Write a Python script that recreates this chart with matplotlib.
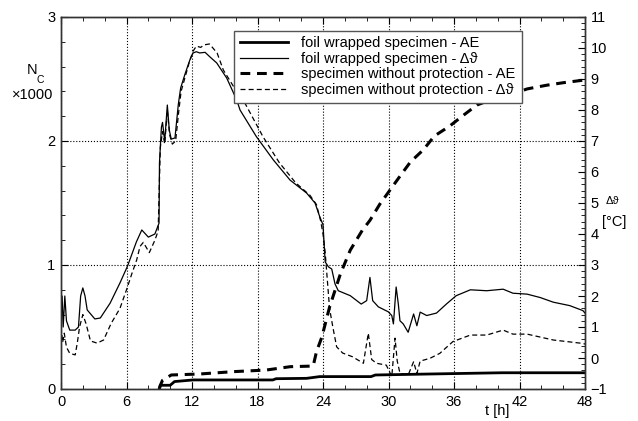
import matplotlib
matplotlib.use('Agg')
import matplotlib.pyplot as plt
from matplotlib.ticker import MultipleLocator

plt.rcParams['font.family'] = ['Liberation Sans', 'DejaVu Sans']

# AE counts (x1000) - foil wrapped specimen
t_foil_ae = [9.0, 9.1, 9.3, 10.0, 10.4, 12.1, 19.4, 19.7, 22.5, 23.7, 28.4, 28.8, 33.8, 40.4, 48.0]
n_foil_ae = [0.0, 0.03, 0.03, 0.03, 0.06, 0.073, 0.073, 0.083, 0.086, 0.10, 0.10, 0.113, 0.121, 0.131, 0.131]

# AE counts (x1000) - specimen without protection
t_bare_ae = [9.0, 9.1, 9.3, 10.1, 12.7, 15.8, 18.8, 21.0, 23.1, 23.4, 23.9, 24.6, 25.6, 26.5, 27.6,
             28.3, 29.2, 30.1, 31.0, 32.0, 33.2, 34.2, 35.6, 36.9, 38.1, 39.6, 41.1, 42.7, 44.5, 46.0, 47.8, 48.0]
n_bare_ae = [0.0, 0.03, 0.07, 0.113, 0.121, 0.14, 0.153, 0.18, 0.185, 0.30, 0.42, 0.66, 0.93, 1.12, 1.28,
             1.36, 1.49, 1.60, 1.71, 1.83, 1.93, 2.04, 2.12, 2.21, 2.29, 2.34, 2.37, 2.42, 2.45, 2.47, 2.49, 2.50]

# temperature difference - foil wrapped specimen
t_foil_dt = [0.0, 0.1, 0.2, 0.35, 0.5, 0.8, 1.3, 1.6, 1.8, 2.0, 2.2, 2.4, 3.1, 3.6, 4.5, 5.4, 6.1, 6.9,
             7.4, 8.0, 8.6, 8.98, 9.02, 9.2, 9.3, 9.5, 9.74, 9.92, 10.1, 10.44, 10.75, 10.96, 11.36, 11.8,
             12.1, 12.4, 12.7, 13.2, 13.65, 14.26, 15.18, 16.1, 16.4, 17.9, 19.45, 20.98, 22.5, 23.27,
             23.7, 24.0, 24.2, 24.5, 24.8, 25.1, 25.4, 26.5, 27.5, 28.0, 28.3, 28.55, 29.07, 29.98, 30.3,
             30.45, 30.7, 30.9, 31.05, 31.35, 31.8, 32.3, 32.6, 32.9, 33.5, 34.4, 35.3, 36.2, 37.5, 39.0,
             40.5, 41.4, 42.7, 43.9, 45.1, 46.6, 47.8, 48.0]
d_foil_dt = [1.5, 2.0, 1.0, 2.0, 1.2, 0.9, 0.9, 1.0, 2.0, 2.26, 2.0, 1.55, 1.26, 1.29, 1.77, 2.42, 2.97, 3.74,
             4.13, 3.90, 4.0, 4.35, 6.3, 7.45, 7.6, 6.99, 8.16, 7.35, 7.06, 7.1, 8.19, 8.71, 9.16, 9.61,
             9.84, 9.88, 9.84, 9.86, 9.71, 9.52, 9.03, 8.32, 8.0, 7.14, 6.39, 5.74, 5.32, 5.0,
             4.56, 4.3, 3.1, 2.94, 2.87, 2.39, 2.17, 2.01, 1.74, 1.85, 2.60, 1.85, 1.65, 1.49, 1.37,
             1.1, 2.29, 1.74, 1.2, 1.1, 0.83, 1.42, 1.04, 1.48, 1.37, 1.45, 1.74, 2.01, 2.2, 2.17,
             2.22, 2.09, 2.06, 1.95, 1.80, 1.69, 1.53, 1.45]

# temperature difference - specimen without protection
t_bare_dt = [0.0, 0.15, 0.3, 0.5, 0.8, 1.3, 1.5, 1.7, 2.0, 2.3, 2.7, 3.3, 3.9, 4.6, 5.4, 6.0, 6.5, 6.93,
             7.24, 7.54, 8.09, 8.6, 8.9, 9.0, 9.1, 9.3, 9.5, 9.74, 9.95, 10.2, 10.5, 10.8, 11.0, 11.4,
             11.8, 12.1, 12.4, 12.8, 13.1, 13.6, 14.3, 14.87, 16.1, 16.85, 18.5, 20.0, 21.5, 22.8, 23.4,
             23.8, 24.0, 24.2, 24.4, 24.6, 24.9, 25.25, 25.8, 26.7, 27.7, 28.15, 28.46, 28.9, 29.8, 30.3,
             30.6, 30.8, 31.05, 31.8, 32.3, 32.6, 32.9, 33.8, 34.7, 35.9, 37.5, 39.0, 40.5, 41.4, 42.7,
             45.1, 47.8, 48.0]
d_bare_dt = [1.0, 0.5, 0.8, 0.35, 0.15, 0.1, 0.5, 1.0, 1.4, 1.1, 0.55, 0.48, 0.58, 1.12, 1.6, 2.2, 2.73, 3.16,
             3.6, 3.73, 3.4, 3.8, 4.1, 5.5, 6.8, 7.3, 6.9, 8.0, 7.2, 6.9, 7.0, 8.0, 8.6, 9.1,
             9.6, 9.9, 10.06, 10.02, 10.1, 10.13, 9.84, 9.29, 8.59, 8.22, 7.14, 6.3, 5.65, 5.25, 4.95,
             4.4, 4.0, 3.4, 2.5, 1.6, 1.0, 0.36, 0.16, 0.04, -0.17, 0.8, -0.05, -0.17, -0.23, -0.6,
             0.64, -0.1, -0.49, -0.55, -0.12, -0.5, -0.1, -0.01, 0.15, 0.53, 0.74, 0.74, 0.9, 0.77, 0.77,
             0.58, 0.47, 0.45]

fig = plt.figure(figsize=(6.38, 4.21), dpi=100)
ax = fig.add_axes([61 / 638, 1 - 389 / 421, 524 / 638, 372 / 421])
ax2 = ax.twinx()

l1, = ax.plot(t_foil_ae, n_foil_ae, color='k', lw=2.0)
l3, = ax.plot(t_bare_ae, n_bare_ae, color='k', lw=2.2, dashes=(3.2, 2.2))
l2, = ax2.plot(t_foil_dt, d_foil_dt, color='k', lw=0.9)
l4, = ax2.plot(t_bare_dt, d_bare_dt, color='k', lw=0.9, dashes=(4, 2.5))

ax.set_xlim(0, 48)
ax.set_ylim(0, 3)
ax2.set_ylim(-1, 11)

ax.xaxis.set_major_locator(MultipleLocator(6))
ax.xaxis.set_minor_locator(MultipleLocator(2))
ax.yaxis.set_major_locator(MultipleLocator(1))
ax.yaxis.set_minor_locator(MultipleLocator(0.2))
ax2.yaxis.set_major_locator(MultipleLocator(1))
ax2.yaxis.set_minor_locator(MultipleLocator(0.2))

ax.tick_params(which='both', direction='in', top=True, right=False, labelsize=10.5, pad=4)
ax.tick_params(which='major', length=5)
ax.tick_params(which='minor', length=3)
ax2.tick_params(which='both', direction='in', labelsize=10.5, pad=4)
ax2.tick_params(which='major', length=5)
ax2.tick_params(which='minor', length=3)

ax.grid(True, which='major', linestyle=':', color='k', lw=0.8)

for a in (ax, ax2):
    for s in a.spines.values():
        s.set_color('#333333')
        s.set_linewidth(1.0)

leg = ax2.legend([l1, l2, l3, l4],
                 ['foil wrapped specimen - AE',
                  'foil wrapped specimen - Δϑ',
                  'specimen without protection - AE',
                  'specimen without protection - Δϑ'],
                 loc='upper left', bbox_to_anchor=(0.317, 0.983), fontsize=10.5,
                 handlelength=3.3, labelspacing=0.1, borderpad=0.4, handletextpad=0.9,
                 fancybox=False, framealpha=1, edgecolor='#555555')
leg.get_frame().set_linewidth(1.0)

fig.text(32 / 638, 1 - 70 / 421, 'N', fontsize=10.5, ha='center', va='center')
fig.text(40 / 638, 1 - 80 / 421, 'C', fontsize=7.5, ha='center', va='center')
fig.text(33 / 638, 1 - 95 / 421, '×1000', fontsize=10.5, ha='center', va='center')
fig.text(612 / 638, 1 - 201 / 421, 'Δϑ', fontsize=8, ha='center', va='center')
fig.text(614 / 638, 1 - 222 / 421, '[°C]', fontsize=10.5, ha='center', va='center')
fig.text(497 / 638, 1 - 411 / 421, 't [h]', fontsize=10.5, ha='center', va='center')

fig.savefig('out.png', dpi=100)
